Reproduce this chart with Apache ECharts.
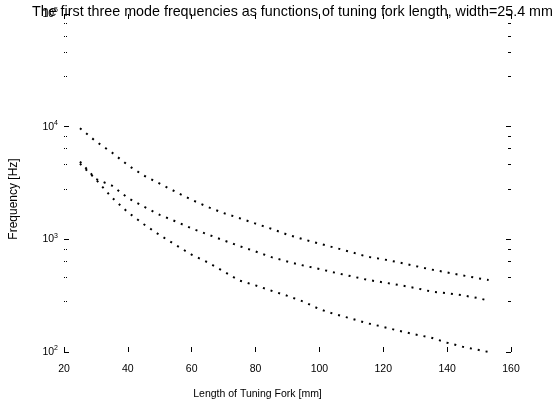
<!DOCTYPE html>
<html>
<head>
<meta charset="utf-8">
<script src="https://cdn.jsdelivr.net/npm/echarts@6/dist/echarts.min.js"></script>
<style>
html,body{margin:0;padding:0;background:#fff;}
#c{width:553px;height:409px;}
</style>
</head>
<body>
<div id="c"></div>
<script>
// Data
var titleText = 'The first three mode frequencies as functions of tuning fork length, width=25.4 mm';
var lengths = [25,30,35,40,45,50,55,60,65,70,75,80,85,90,95,100,105,110,115,120,125,130,135,140,145,150,153];
var mode3 = [9700,7400,5900,4550,3680,3120,2640,2240,1940,1710,1540,1380,1240,1100,1000,915,840,770,700,665,624,580,540,508,478,450,436];
var mode2 = [4900,3430,3000,2330,1950,1650,1440,1250,1105,980,870,780,695,635,585,545,505,470,437,415,393,370,344,332,318,300,285];
var mode1 = [4700,3400,2350,1740,1360,1090,890,730,625,520,430,390,350,315,280,240,216,198,180,167,154,143,134,121,111,104,100];
var xTicks = [20,40,60,80,100,120,140,160];
var yExponents = [2,3,4,5];

function pairs(xs, ys){ return xs.map(function(x,i){ return [x, ys[i]]; }); }

var chart = echarts.init(document.getElementById('c'));
var lineStyle = {color:'#000', width:2, type:[2,6]};
function mk(name, ys){
  return {name:name, type:'line', data:pairs(lengths, ys), showSymbol:false, symbol:'none',
    lineStyle:lineStyle, xAxisIndex:0, yAxisIndex:0, animation:false};
}
chart.setOption({
  animation:false,
  backgroundColor:'#fff',
  title:{text:titleText, left:27, top:0, textStyle:{fontFamily:'Liberation Sans', fontSize:14.3, fontWeight:'normal', color:'#000'}},
  grid:{left:61, right:42, top:14, bottom:57},
  xAxis:[{
    type:'value', min:xTicks[0], max:xTicks[xTicks.length-1], interval:20, position:'bottom',
    name:'Length of Tuning Fork [mm]', nameLocation:'middle', nameGap:37,
    nameTextStyle:{fontFamily:'Liberation Sans', fontSize:10.5, color:'#000', padding:[0,60,0,0]},
    axisLine:{show:false}, axisTick:{show:true, inside:true, length:5, lineStyle:{color:'#000'}},
    axisLabel:{fontFamily:'Liberation Sans', fontSize:10.5, color:'#000', margin:12},
    splitLine:{show:false}
  },{
    type:'value', min:xTicks[0], max:xTicks[xTicks.length-1], interval:20, position:'top',
    axisLine:{show:false}, axisTick:{show:true, inside:true, length:5, lineStyle:{color:'#000'}},
    axisLabel:{show:false}, splitLine:{show:false}
  }],
  yAxis:[{
    type:'log', logBase:10, min:Math.pow(10,yExponents[0]), max:Math.pow(10,yExponents[yExponents.length-1]), position:'left',
    name:'Frequency [Hz]', nameLocation:'middle', nameGap:44,
    nameTextStyle:{fontFamily:'Liberation Sans', fontSize:12, color:'#000', padding:[0,32,0,0]},
    axisLine:{show:false}, axisTick:{show:true, inside:true, length:5, lineStyle:{color:'#000'}},
    minorTick:{show:true, splitNumber:5, length:3, lineStyle:{color:'#000', type:'dotted'}},
    axisLabel:{fontFamily:'Liberation Sans', color:'#000', margin:6,
      formatter:function(v){ var e = Math.round(Math.log10(v)); return '{b|10}{s|'+e+'}'; },
      rich:{b:{fontSize:10.5, fontFamily:'Liberation Sans', color:'#000'}, s:{fontSize:7, fontFamily:'Liberation Sans', color:'#000', padding:[0,0,7,0]}}
    },
    splitLine:{show:false}
  },{
    type:'log', logBase:10, min:Math.pow(10,yExponents[0]), max:Math.pow(10,yExponents[yExponents.length-1]), position:'right',
    axisLine:{show:false}, axisTick:{show:true, inside:true, length:5, lineStyle:{color:'#000'}},
    minorTick:{show:true, splitNumber:5, length:3, lineStyle:{color:'#000'}},
    axisLabel:{show:false}, splitLine:{show:false}
  }],
  series:[mk('Mode 1', mode1), mk('Mode 2', mode2), mk('Mode 3', mode3)]
});
</script>
</body>
</html>
